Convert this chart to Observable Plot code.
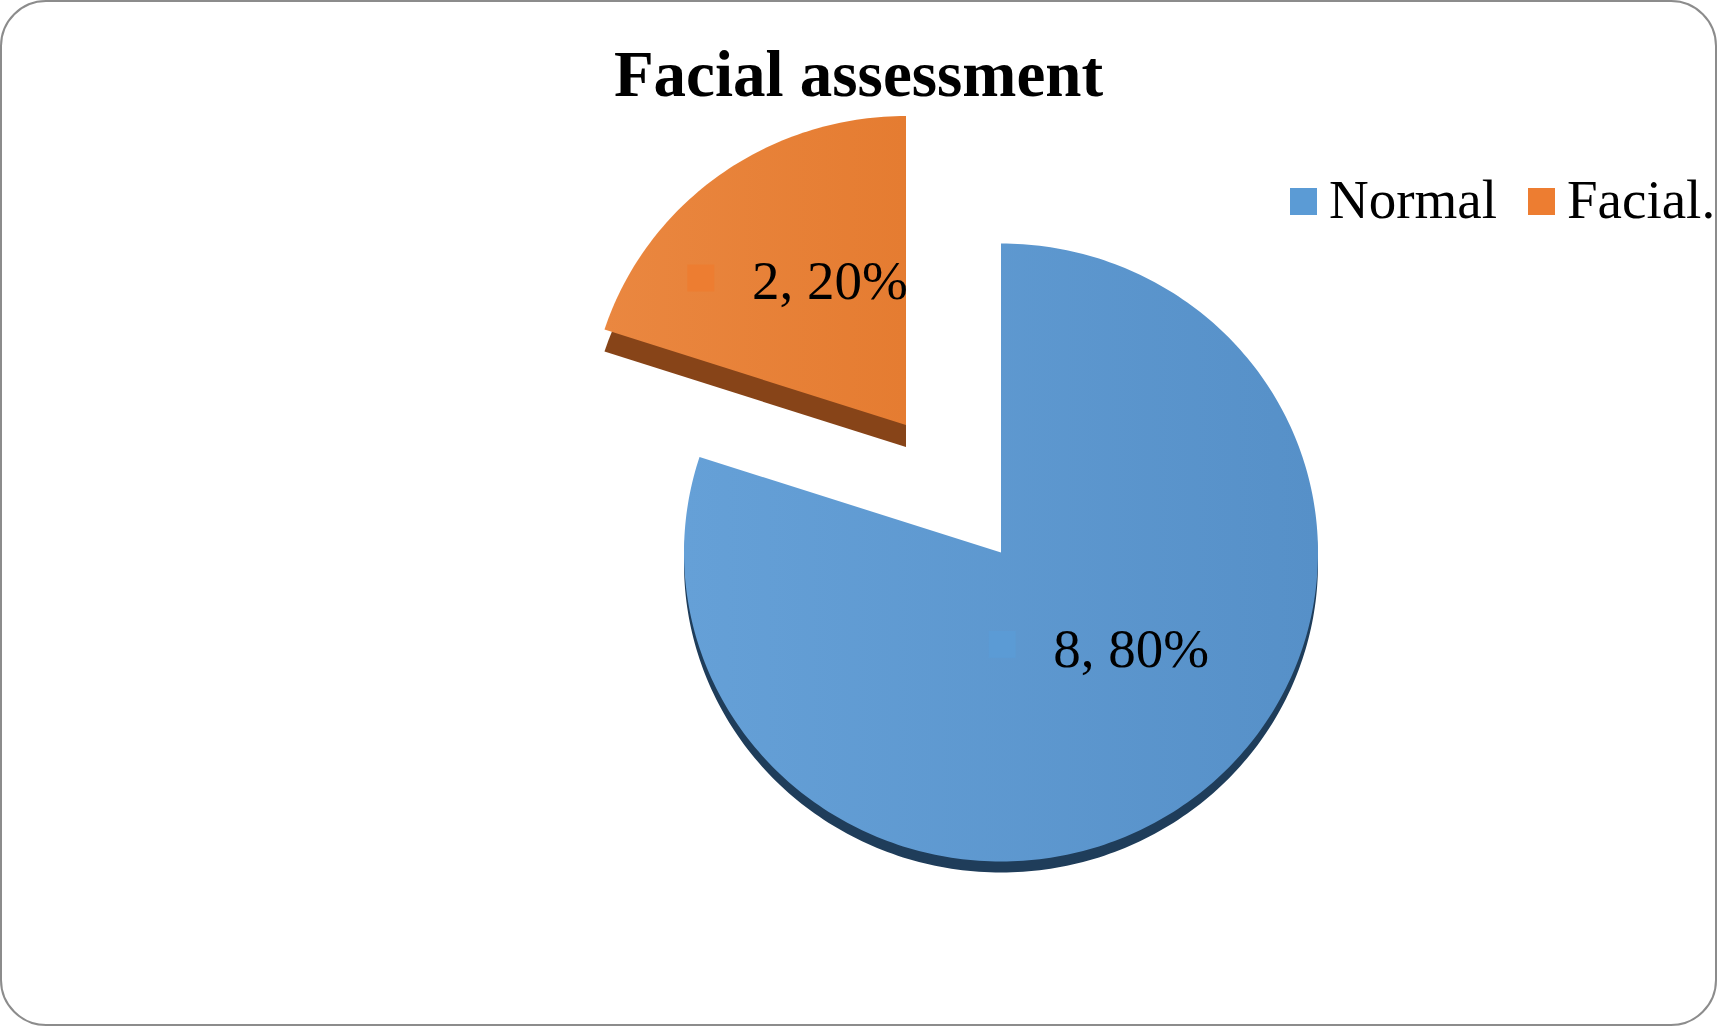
<!DOCTYPE html>
<html>
<head>
<meta charset="utf-8">
<script src="https://cdn.jsdelivr.net/npm/d3@7"></script>
<script src="https://cdn.jsdelivr.net/npm/@observablehq/plot@0.6"></script>
<style>
  html, body { margin: 0; padding: 0; background: #ffffff; }
  #wrap { position: relative; width: 1717px; height: 1026px; overflow: hidden; background: #ffffff; }
  #chart { position: absolute; left: 0; top: 0; }
  #frame { position: absolute; left: 0; top: 0; width: 1717px; height: 1026px; box-sizing: border-box;
           border: 2px solid #8c8c8c; border-radius: 46px; pointer-events: none; }
  #title { position: absolute; left: 0; top: 42px; width: 1717px; text-align: center;
           font-family: "Liberation Serif", "Times New Roman", serif; font-weight: bold;
           font-size: 65px; line-height: 65px; color: #000; }
  #legend { position: absolute; left: 1290px; top: 172px; white-space: nowrap;
            font-family: "Liberation Serif", "Times New Roman", serif; font-size: 55px; line-height: 55px; color: #000; }
  .key { display: inline-block; width: 27px; height: 27px; vertical-align: baseline; margin-bottom: 3px; }
  .item { display: inline-block; }
  .lab { margin-left: 12px; }
</style>
</head>
<body>
<div id="wrap">
  <div id="chart"></div>
  <div id="title">Facial assessment</div>
  <div id="legend"></div>
  <div id="frame"></div>
</div>
<script>
// ---- data ----
const categories = ["Normal", "Facial."];
const values = [8, 2];
const colors = ["#5B9BD5", "#ED7D31"];
const explodes = [0, 0.51];

// ---- geometry from data ----
const total = d3.sum(values);
const pie = d3.pie().sort(null).value(d => d.value);
const slices = pie(categories.map((c, i) => ({name: c, value: values[i], explode: explodes[i], color: colors[i]})));

const outline = [];
const labels = [];
slices.forEach(s => {
  const mid = (s.startAngle + s.endAngle) / 2;
  const ox = s.data.explode * Math.sin(mid);
  const oy = s.data.explode * Math.cos(mid);
  outline.push({name: s.data.name, x: ox, y: oy});
  const n = Math.ceil((s.endAngle - s.startAngle) / (Math.PI / 180));
  for (let k = 0; k <= n; k++) {
    const a = s.startAngle + (s.endAngle - s.startAngle) * k / n;
    outline.push({name: s.data.name, x: ox + Math.sin(a), y: oy + Math.cos(a)});
  }
  labels.push({
    name: s.data.name,
    color: s.data.color,
    text: `${s.data.value}, ${d3.format(".0%")(s.data.value / total)}`,
    x: ox + 0.5 * Math.sin(mid),
    y: oy + 0.5 * Math.cos(mid)
  });
});

const W = 1717, H = 1026;
const cx = 1000.5, cy = 552, rx = 317, ry = 309;

const part = name => outline.filter(d => d.name === name);
const lab = name => labels.filter(d => d.name === name);

const plot = Plot.plot({
  width: W, height: H,
  margin: 0,
  x: {domain: [-cx / rx, (W - cx) / rx], axis: null},
  y: {domain: [-(H - cy) / ry, cy / ry], axis: null},
  color: {type: "identity"},
  marks: [
    // side / depth faces
    Plot.line(part("Normal"), {x: "x", y: "y", fill: "#1f3d5a", stroke: "none", dy: 11}),
    Plot.line(part("Facial."), {x: "x", y: "y", fill: "#874418", stroke: "none", dy: 22}),
    // top faces
    Plot.line(part("Normal"), {x: "x", y: "y", fill: "url(#gradNormal)", stroke: "none"}),
    Plot.line(part("Facial."), {x: "x", y: "y", fill: "url(#gradFacial)", stroke: "none"}),
    // data labels with legend keys
    Plot.dot(lab("Normal"), {x: "x", y: "y", symbol: "square", r: 15.2, fill: "color", stroke: "none", dx: -92, dy: -33}),
    Plot.text(lab("Normal"), {x: "x", y: "y", text: "text", fontSize: 55, fontFamily: "Liberation Serif", fill: "#000", dx: 37, dy: -28}),
    Plot.dot(lab("Facial."), {x: "x", y: "y", symbol: "square", r: 15.2, fill: "color", stroke: "none", dx: -112, dy: -22}),
    Plot.text(lab("Facial."), {x: "x", y: "y", text: "text", fontSize: 55, fontFamily: "Liberation Serif", fill: "#000", dx: 17, dy: -19})
  ],
  style: {background: "transparent", overflow: "visible"}
});

const defs = d3.select(plot).insert("defs", ":first-child");
function grad(id, a, b) {
  const g = defs.append("linearGradient").attr("id", id).attr("x1", "0").attr("y1", "0").attr("x2", "1").attr("y2", "0");
  g.append("stop").attr("offset", "0").attr("stop-color", a);
  g.append("stop").attr("offset", "1").attr("stop-color", b);
}
grad("gradNormal", "#65a0d7", "#5690c8");
grad("gradFacial", "#ea8740", "#e57c31");

document.getElementById("chart").appendChild(plot);

// legend
const legend = d3.select("#legend");
categories.forEach((c, i) => {
  const it = legend.append("span").attr("class", "item").style("margin-right", i === 0 ? "31px" : "0px");
  it.append("span").attr("class", "key").style("background", colors[i]);
  it.append("span").attr("class", "lab").text(c);
});
</script>
</body>
</html>
